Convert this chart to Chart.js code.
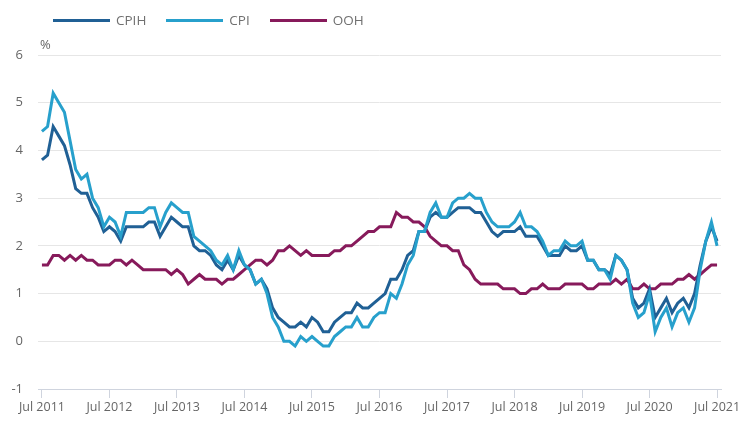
<!DOCTYPE html>
<html lang="en">
<head>
    <meta charset="UTF-8">
    <title>CPIH, CPI and OOH annual rates</title>
    <script src="https://cdn.jsdelivr.net/npm/chart.js"></script>
    <style>
        * {
            margin: 0;
            padding: 0;
            box-sizing: border-box;
        }

        body {
            font-family: 'Open Sans', sans-serif;
            background: #ffffff;
        }

        .wrap {
            position: relative;
            width: 755px;
            height: 429px;
        }

        .legend {
            position: absolute;
            top: 11px;
            left: 53px;
            display: flex;
            align-items: center;
            font-size: 13.5px;
            color: #707070;
        }

        .legend-item {
            display: flex;
            align-items: center;
            margin-right: 20px;
        }

        .legend-line {
            width: 57px;
            height: 3px;
            margin-right: 6px;
        }
    </style>
</head>
<body>
    <div class="wrap">
        <div class="legend" id="legend"></div>
        <canvas id="inflationChart" width="755" height="429"></canvas>
    </div>

    <script>
        // monthly 12-month rates, Jul 2011 to Jul 2021
        const cpih = [
            3.8, 3.9, 4.5, 4.3, 4.1, 3.7,
            3.2, 3.1, 3.1, 2.8, 2.6, 2.3, 2.4, 2.3, 2.1, 2.4, 2.4, 2.4,
            2.4, 2.5, 2.5, 2.2, 2.4, 2.6, 2.5, 2.4, 2.4, 2.0, 1.9, 1.9,
            1.8, 1.6, 1.5, 1.7, 1.5, 1.8, 1.6, 1.5, 1.2, 1.3, 1.1, 0.7,
            0.5, 0.4, 0.3, 0.3, 0.4, 0.3, 0.5, 0.4, 0.2, 0.2, 0.4, 0.5,
            0.6, 0.6, 0.8, 0.7, 0.7, 0.8, 0.9, 1.0, 1.3, 1.3, 1.5, 1.8,
            1.9, 2.3, 2.3, 2.6, 2.7, 2.6, 2.6, 2.7, 2.8, 2.8, 2.8, 2.7,
            2.7, 2.5, 2.3, 2.2, 2.3, 2.3, 2.3, 2.4, 2.2, 2.2, 2.2, 2.0,
            1.8, 1.8, 1.8, 2.0, 1.9, 1.9, 2.0, 1.7, 1.7, 1.5, 1.5, 1.4,
            1.8, 1.7, 1.5, 0.9, 0.7, 0.8, 1.1, 0.5, 0.7, 0.9, 0.6, 0.8,
            0.9, 0.7, 1.0, 1.6, 2.1, 2.4, 2.1
        ];

        const cpi = [
            4.4, 4.5, 5.2, 5.0, 4.8, 4.2,
            3.6, 3.4, 3.5, 3.0, 2.8, 2.4, 2.6, 2.5, 2.2, 2.7, 2.7, 2.7,
            2.7, 2.8, 2.8, 2.4, 2.7, 2.9, 2.8, 2.7, 2.7, 2.2, 2.1, 2.0,
            1.9, 1.7, 1.6, 1.8, 1.5, 1.9, 1.6, 1.5, 1.2, 1.3, 1.0, 0.5,
            0.3, 0.0, 0.0, -0.1, 0.1, 0.0, 0.1, 0.0, -0.1, -0.1, 0.1, 0.2,
            0.3, 0.3, 0.5, 0.3, 0.3, 0.5, 0.6, 0.6, 1.0, 0.9, 1.2, 1.6,
            1.8, 2.3, 2.3, 2.7, 2.9, 2.6, 2.6, 2.9, 3.0, 3.0, 3.1, 3.0,
            3.0, 2.7, 2.5, 2.4, 2.4, 2.4, 2.5, 2.7, 2.4, 2.4, 2.3, 2.1,
            1.8, 1.9, 1.9, 2.1, 2.0, 2.0, 2.1, 1.7, 1.7, 1.5, 1.5, 1.3,
            1.8, 1.7, 1.5, 0.8, 0.5, 0.6, 1.0, 0.2, 0.5, 0.7, 0.3, 0.6,
            0.7, 0.4, 0.7, 1.5, 2.1, 2.5, 2.0
        ];

        const ooh = [
            1.6, 1.6, 1.8, 1.8, 1.7, 1.8,
            1.7, 1.8, 1.7, 1.7, 1.6, 1.6, 1.6, 1.7, 1.7, 1.6, 1.7, 1.6,
            1.5, 1.5, 1.5, 1.5, 1.5, 1.4, 1.5, 1.4, 1.2, 1.3, 1.4, 1.3,
            1.3, 1.3, 1.2, 1.3, 1.3, 1.4, 1.5, 1.6, 1.7, 1.7, 1.6, 1.7,
            1.9, 1.9, 2.0, 1.9, 1.8, 1.9, 1.8, 1.8, 1.8, 1.8, 1.9, 1.9,
            2.0, 2.0, 2.1, 2.2, 2.3, 2.3, 2.4, 2.4, 2.4, 2.7, 2.6, 2.6,
            2.5, 2.5, 2.4, 2.2, 2.1, 2.0, 2.0, 1.9, 1.9, 1.6, 1.5, 1.3,
            1.2, 1.2, 1.2, 1.2, 1.1, 1.1, 1.1, 1.0, 1.0, 1.1, 1.1, 1.2,
            1.1, 1.1, 1.1, 1.2, 1.2, 1.2, 1.2, 1.1, 1.1, 1.2, 1.2, 1.2,
            1.3, 1.2, 1.3, 1.1, 1.1, 1.2, 1.1, 1.1, 1.2, 1.2, 1.2, 1.3,
            1.3, 1.4, 1.3, 1.4, 1.5, 1.6, 1.6
        ];

        const tickLabels = [
            'Jul 2011', 'Jul 2012', 'Jul 2013', 'Jul 2014', 'Jul 2015', 'Jul 2016',
            'Jul 2017', 'Jul 2018', 'Jul 2019', 'Jul 2020', 'Jul 2021'
        ];

        const series = [
            { label: 'CPIH', values: cpih, color: '#206095', order: 2 },
            { label: 'CPI', values: cpi, color: '#27a0cc', order: 1 },
            { label: 'OOH', values: ooh, color: '#871a5b', order: 3 }
        ];

        const textColor = '#666666';
        const fontFamily = "'Open Sans', sans-serif";

        // legend in html so it can sit where the original one is
        const legend = document.getElementById('legend');
        legend.innerHTML = series.map(s =>
            `<div class="legend-item"><span class="legend-line" style="background:${s.color}"></span>${s.label}</div>`
        ).join('');

        // draws the "%" unit above the y axis
        const unitLabel = {
            id: 'unitLabel',
            afterDraw(chart) {
                const { ctx, chartArea } = chart;
                ctx.save();
                ctx.font = '13px ' + fontFamily;
                ctx.fillStyle = textColor;
                ctx.textAlign = 'left';
                ctx.textBaseline = 'bottom';
                ctx.fillText('%', chartArea.left + 2, chartArea.top - 3);
                ctx.restore();
            }
        };

        const ctx = document.getElementById('inflationChart').getContext('2d');
        new Chart(ctx, {
            type: 'line',
            data: {
                datasets: series.map(s => ({
                    label: s.label,
                    data: s.values.map((v, i) => ({ x: i, y: v })),
                    borderColor: s.color,
                    backgroundColor: s.color,
                    borderWidth: 3,
                    pointRadius: 0,
                    tension: 0,
                    order: s.order
                }))
            },
            options: {
                responsive: false,
                animation: false,
                layout: {
                    padding: { top: 55, left: 12, right: 34, bottom: 12 }
                },
                plugins: {
                    legend: { display: false },
                    tooltip: { enabled: false }
                },
                scales: {
                    x: {
                        type: 'linear',
                        min: -0.7,
                        max: 120.7,
                        afterBuildTicks: axis => {
                            axis.ticks = tickLabels.map((t, i) => ({ value: i * 12 }));
                        },
                        grid: {
                            drawOnChartArea: false,
                            drawTicks: true,
                            tickLength: 9,
                            color: '#cfd4de'
                        },
                        border: { display: true, color: '#cfd4de' },
                        ticks: {
                            autoSkip: false,
                            maxRotation: 0,
                            padding: 2,
                            color: textColor,
                            font: { family: fontFamily, size: 12.5 },
                            callback: value => tickLabels[Math.round(value / 12)]
                        }
                    },
                    y: {
                        min: -1,
                        max: 6,
                        afterFit: axis => {
                            axis.width = 26;
                        },
                        ticks: {
                            stepSize: 1,
                            padding: 15,
                            color: textColor,
                            font: { family: fontFamily, size: 13 }
                        },
                        grid: {
                            drawTicks: false,
                            color: '#e6e6e6'
                        },
                        border: { display: false }
                    }
                }
            },
            plugins: [unitLabel]
        });
    </script>
</body>
</html>
